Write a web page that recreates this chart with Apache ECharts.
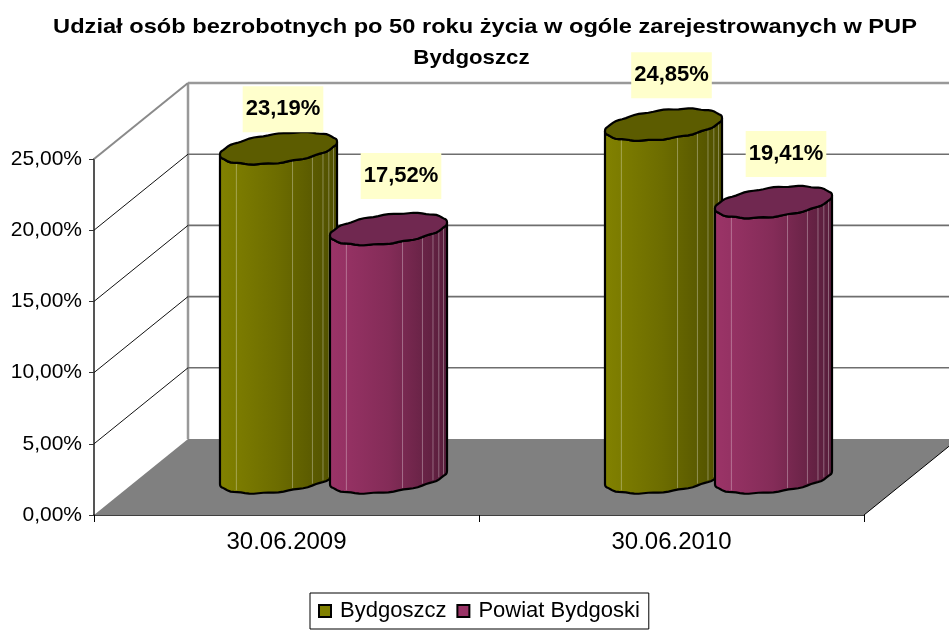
<!DOCTYPE html>
<html><head><meta charset="utf-8">
<script src="https://cdn.jsdelivr.net/npm/echarts@6/dist/echarts.min.js"></script>
<style>html,body{margin:0;padding:0;background:#fff}#c{width:949px;height:630px}</style>
</head><body><div id="c"></div>
<script>
const titleLines = ['Udział osób bezrobotnych po 50 roku życia w ogóle zarejestrowanych w PUP', 'Bydgoszcz'];
const categories = ['30.06.2009', '30.06.2010'];
const seriesNames = ['Bydgoszcz', 'Powiat Bydgoski'];
const bydgoszcz = [23.19, 24.85];
const powiat = [17.52, 19.41];
const yTicks = [0, 5, 10, 15, 20, 25];

const FONT = '"Liberation Sans", Arial, sans-serif';
const depthX = 94, depthY = -76;
const stripes = [0.14, 0.62, 0.79, 0.88, 0.93, 0.97];
const labelNudge = [[[4.5, -38], [8, -48.5]], [[12.5, -52], [12.5, -47]]];
const palette = [
  {side: ['#828200', '#6c6c00', '#4e4e00'], top: '#5c5c00'},
  {side: ['#9c3468', '#842c58', '#561d3a'], top: '#702850'}
];
const fmt = v => v.toFixed(2).replace('.', ',') + '%';

function ring(cx, cy, a, from, to, n) {
  const pts = [];
  for (let i = 0; i <= n; i++) {
    const t = from + (to - from) * i / n;
    const y = cy - 6.5 * Math.cos(t) + 14.5 * Math.sin(t) + 0.45 * Math.sin(13 * t);
    pts.push([cx + a * Math.cos(t), y]);
  }
  return pts;
}

function wallItem(params, api) {
  const v = api.value(0);
  const cs = params.coordSys;
  const p = api.coord([0, v]);
  const left = cs.x, right = cs.x + cs.width;
  const y = p[1];
  const kids = [];
  const isTop = v === yTicks[yTicks.length - 1];
  if (v === 0) {
    kids.push({type: 'polygon', shape: {points: [[left, y], [right, y], [right + depthX, y + depthY], [left + depthX, y + depthY]]},
      style: {fill: '#808080', stroke: null}});
    kids.push({type: 'line', shape: {x1: right, y1: y, x2: right + depthX, y2: y + depthY}, style: {stroke: '#000', lineWidth: 1}});
    const topY = api.coord([0, yTicks[yTicks.length - 1]])[1] + depthY;
    kids.push({type: 'line', shape: {x1: left + depthX, y1: y + depthY, x2: left + depthX, y2: topY}, style: {stroke: '#999999', lineWidth: 2.5}});
  } else {
    kids.push({type: 'line', shape: {x1: left + depthX, y1: y + depthY, x2: right + depthX, y2: y + depthY},
      style: {stroke: isTop ? '#999999' : '#6e6e6e', lineWidth: isTop ? 2.5 : 1.6}});
    kids.push({type: 'line', shape: {x1: left, y1: y, x2: left + depthX, y2: y + depthY},
      style: {stroke: isTop ? '#8a8a8a' : '#111', lineWidth: isTop ? 2 : 1}});
  }
  return {type: 'group', children: kids};
}

function cylinderItem(s) {
  return function (params, api) {
    const cat = api.value(0), val = api.value(1);
    const band = api.size([1, 0])[0];
    const top = api.coord([cat, val]), base = api.coord([cat, 0]);
    const shift = (s === 0 ? -1 : 1) * band / 7;
    const a = band * 0.152;
    const cx = top[0] + depthX / 2 + shift;
    const by = base[1] + depthY / 2 + 0.5;
    const ty = top[1] + depthY / 2 + 1.5;
    const c = palette[s];
    const body = ring(cx, by, a, Math.PI, 0, 36).concat(ring(cx, ty, a, 0, Math.PI, 36));
    const kids = [{
      type: 'polygon', shape: {points: body},
      style: {
        fill: {type: 'linear', x: 0, y: 0, x2: 1, y2: 0, colorStops: [
          {offset: 0, color: c.side[0]}, {offset: 0.5, color: c.side[1]}, {offset: 1, color: c.side[2]}]},
        stroke: '#000', lineWidth: 2.2
      }
    }];
    stripes.forEach(f => {
      const k = 2 * f - 1, q = Math.sqrt(1 - k * k);
      const x = cx + a * k;
      kids.push({type: 'line', shape: {x1: x, y1: ty - 6.5 * k + 14.5 * q, x2: x, y2: by - 6.5 * k + 14.5 * q - 2},
        style: {stroke: 'rgba(255,255,255,0.32)', lineWidth: 1}});
    });
    kids.push({type: 'polygon', shape: {points: ring(cx, ty, a, 0, 2 * Math.PI, 72)},
      style: {fill: c.top, stroke: '#000', lineWidth: 2.2}});
    return {type: 'group', children: kids};
  };
}

function labelItem(params, api) {
  const s = api.value(0), cat = api.value(1), val = api.value(2);
  const band = api.size([1, 0])[0];
  const top = api.coord([cat, val]);
  const shift = (s === 0 ? -1 : 1) * band / 7;
  const n = labelNudge[s][cat];
  return {
    type: 'text',
    style: {
      text: fmt(val), x: top[0] + depthX / 2 + shift + n[0], y: top[1] + depthY / 2 + 0.5 + n[1],
      align: 'center', verticalAlign: 'middle',
      font: 'bold 22px ' + FONT, fill: '#000',
      backgroundColor: '#FFFFCC', padding: [12, 3, 12, 3]
    }
  };
}

const toRows = arr => arr.map((v, i) => [i, v]);
const labelRows = [bydgoszcz, powiat].flatMap((arr, s) => arr.map((v, i) => [s, i, v]));

const option = {
  animation: false,
  backgroundColor: '#fff',
  graphic: [
    {type: 'text', x: 485, y: 17, scaleX: 1.125, silent: true,
      style: {text: titleLines[0], x: 0, y: 0, align: 'center', verticalAlign: 'top', font: 'bold 21px ' + FONT, fill: '#000'}},
    {type: 'text', x: 471.5, y: 48, scaleX: 1.06, silent: true,
      style: {text: titleLines[1], x: 0, y: 0, align: 'center', verticalAlign: 'top', font: 'bold 21px ' + FONT, fill: '#000'}}
  ],
  legend: {
    data: seriesNames, left: 310, top: 593, icon: 'rect',
    orient: 'horizontal', padding: [7, 9, 7, 8], itemGap: 10, itemWidth: 12, itemHeight: 12,
    borderColor: '#000', borderWidth: 1, backgroundColor: '#fff',
    textStyle: {fontFamily: FONT, fontSize: 22, color: '#000', padding: [0, 0, 0, 4]},
    selectedMode: false
  },
  grid: {left: 94, right: 85, top: 159, bottom: 115, containLabel: false},
  xAxis: {
    type: 'category', data: categories, boundaryGap: true,
    axisLine: {lineStyle: {color: '#000', width: 1.5}},
    axisTick: {show: true, length: 7, lineStyle: {color: '#000'}},
    axisLabel: {fontFamily: FONT, fontSize: 24, color: '#000', margin: 15}
  },
  yAxis: {
    type: 'value', min: 0, max: 25, interval: 5,
    splitLine: {show: false},
    axisLine: {show: true, lineStyle: {color: '#555', width: 2}},
    axisTick: {show: true, length: 5, lineStyle: {color: '#333'}},
    axisLabel: {fontFamily: FONT, fontSize: 21, color: '#000', margin: 12, formatter: v => fmt(v)}
  },
  series: [
    {name: 'walls', type: 'custom', renderItem: wallItem, clip: false, silent: true, z: 1,
      data: yTicks.map(v => [v]), encode: {y: 0}},
    {name: seriesNames[0], type: 'custom', renderItem: cylinderItem(0), clip: false, silent: true, z: 2,
      itemStyle: {color: '#808000', borderColor: '#000', borderWidth: 1.5},
      data: toRows(bydgoszcz), encode: {x: 0, y: 1}},
    {name: seriesNames[1], type: 'custom', renderItem: cylinderItem(1), clip: false, silent: true, z: 3,
      itemStyle: {color: '#993366', borderColor: '#000', borderWidth: 1.5},
      data: toRows(powiat), encode: {x: 0, y: 1}},
    {name: 'labels', type: 'custom', renderItem: labelItem, clip: false, silent: true, z: 4,
      data: labelRows, encode: {x: 1, y: 2}}
  ]
};
echarts.init(document.getElementById('c'), null, {renderer: 'canvas'}).setOption(option);
</script></body></html>
